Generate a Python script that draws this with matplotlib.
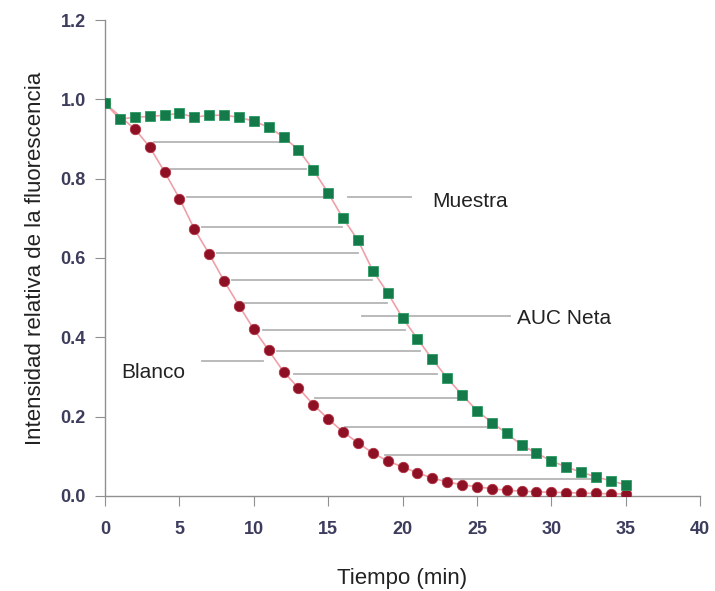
import numpy as np
import matplotlib
matplotlib.use("Agg")
import matplotlib.pyplot as plt

# ---- datos ----
t_blanco = [0, 2, 3, 4, 5, 6, 7, 8, 9, 10, 11, 12, 13, 14, 15, 16, 17, 18,
            19, 20, 21, 22, 23, 24, 25, 26, 27, 28, 29, 30, 31, 32, 33, 34, 35]
blanco = [0.99, 0.925, 0.88, 0.817, 0.75, 0.673, 0.61, 0.542, 0.48, 0.42,
          0.367, 0.313, 0.272, 0.23, 0.194, 0.161, 0.134, 0.108, 0.088, 0.073,
          0.058, 0.045, 0.035, 0.028, 0.023, 0.018, 0.014, 0.012, 0.010, 0.009,
          0.008, 0.007, 0.006, 0.005, 0.005]

t_muestra = list(range(0, 36))
muestra = [0.99, 0.95, 0.955, 0.957, 0.96, 0.965, 0.955, 0.96, 0.96, 0.955,
           0.945, 0.93, 0.905, 0.873, 0.822, 0.764, 0.70, 0.645, 0.568, 0.512,
           0.449, 0.396, 0.345, 0.297, 0.255, 0.215, 0.185, 0.158, 0.128, 0.108,
           0.088, 0.073, 0.06, 0.048, 0.038, 0.028]

# niveles de las lineas horizontales del area entre curvas
niveles_auc = [0.892, 0.824, 0.754, 0.678, 0.612, 0.545, 0.487, 0.418,
               0.365, 0.307, 0.247, 0.174, 0.103, 0.043]

x_ticks = [0, 5, 10, 15, 20, 25, 30, 35, 40]
y_ticks = [0.0, 0.2, 0.4, 0.6, 0.8, 1.0, 1.2]

plt.rcParams['font.family'] = ['Liberation Sans', 'DejaVu Sans']

fig = plt.figure(figsize=(7.15, 5.91), dpi=100)
ax = fig.add_axes([0.147, 0.161, 0.832, 0.805])

# lineas horizontales (AUC neta)
tb = np.array(t_blanco)[::-1]
bb = np.array(blanco)[::-1]
tm = np.array(t_muestra)[::-1]
mm = np.array(muestra)[::-1]
for y in niveles_auc:
    x0 = np.interp(y, bb, tb) + 0.55
    x1 = np.interp(y, mm, tm) - 0.45
    ax.plot([x0, x1], [y, y], color='#b4b4b4', lw=1.3, zorder=1)

# curvas
ax.plot(t_blanco, blanco, color='#f0a0a8', lw=1.2, zorder=2)
ax.plot(t_muestra, muestra, color='#f0a0a8', lw=1.2, zorder=2)
ax.plot(t_blanco, blanco, 'o', color='#8e1024', ms=7.5, mec='#b03040',
        mew=0.6, zorder=3)
ax.plot(t_muestra, muestra, 's', color='#157a4a', ms=6.5, mec='#2a9a60',
        mew=0.6, zorder=4)

# anotaciones
ax.plot([16.3, 20.6], [0.755, 0.755], color='#b4b4b4', lw=1.3)
ax.text(22.0, 0.742, 'Muestra', fontsize=15, va='center', color='#222222')
ax.plot([17.3, 27.2], [0.453, 0.453], color='#b4b4b4', lw=1.3)
ax.text(27.7, 0.448, 'AUC Neta', fontsize=15, va='center', color='#222222')
ax.plot([6.5, 10.6], [0.34, 0.34], color='#b4b4b4', lw=1.3)
ax.text(1.1, 0.31, 'Blanco', fontsize=15, va='center', color='#222222')

ax.set_xlim(0, 40)
ax.set_ylim(0, 1.2)
ax.set_xticks(x_ticks)
ax.set_yticks(y_ticks)
ax.set_yticklabels(['%.1f' % v for v in y_ticks])
ax.tick_params(axis='both', direction='out', length=7, color='#909090',
               labelsize=13, labelcolor='#3c3c5c')
ax.tick_params(axis='x', pad=11)
ax.tick_params(axis='y', pad=7)
for lab in ax.get_xticklabels() + ax.get_yticklabels():
    lab.set_fontweight('bold')

for side in ['top', 'right']:
    ax.spines[side].set_visible(False)
for side in ['left', 'bottom']:
    ax.spines[side].set_color('#909090')
    ax.spines[side].set_linewidth(1.0)

ax.set_xlabel('Tiempo (min)', fontsize=16, color='#222222', labelpad=22)
ax.set_ylabel('Intensidad relativa de la fluorescencia', fontsize=16,
              color='#222222', labelpad=10)

fig.savefig('out.png', dpi=100)
